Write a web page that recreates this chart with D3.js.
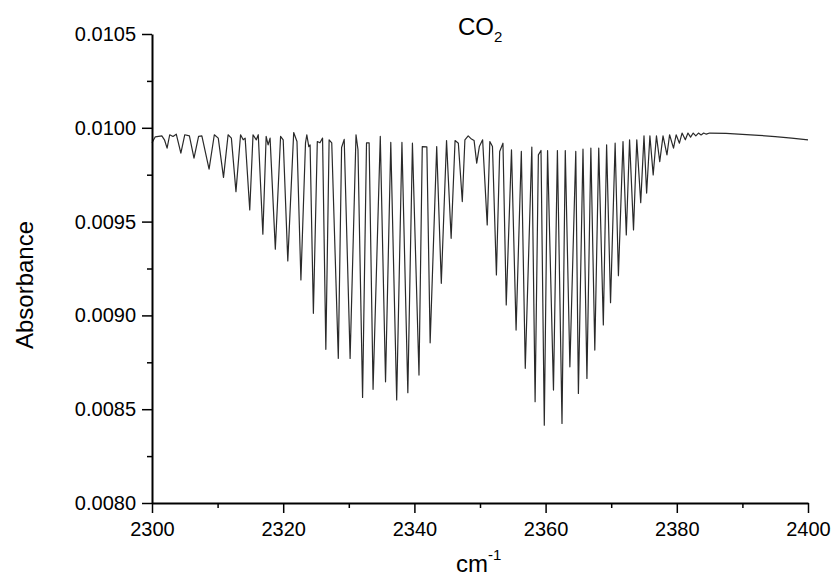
<!DOCTYPE html>
<html>
<head>
<meta charset="utf-8">
<script src="https://cdn.jsdelivr.net/npm/d3@7"></script>
<style>
  body { margin: 0; background: #fff; }
  text { font-family: "Liberation Sans", Arial, sans-serif; fill: #000; }
</style>
</head>
<body>
<div id="chart"></div>
<script>
// spectrum vertices (wavenumber in cm-1, absorbance)
var wavenumber = [
  2300.0, 2300.5, 2301.5, 2301.9, 2302.3, 2302.7, 2303.2, 2303.7, 2304.4, 2305.0,
  2305.7, 2306.4, 2307.1, 2307.6, 2308.7, 2309.5, 2310.1, 2310.9, 2311.6, 2312.1,
  2312.8, 2313.5, 2313.9, 2314.2, 2314.9, 2315.4, 2315.9, 2316.2, 2316.9, 2317.4,
  2317.7, 2318.0, 2318.8, 2319.6, 2320.0, 2320.7, 2321.6, 2322.1, 2322.7, 2323.4,
  2323.6, 2323.9, 2324.1, 2324.6, 2325.2, 2325.6, 2326.0, 2326.5, 2327.0, 2327.4,
  2328.4, 2328.9, 2329.3, 2330.2, 2331.1, 2331.4, 2332.1, 2332.7, 2333.1, 2333.7,
  2334.8, 2335.6, 2336.4, 2337.3, 2338.1, 2339.0, 2339.7, 2340.7, 2341.2, 2341.9,
  2342.4, 2343.4, 2344.1, 2344.9, 2345.6, 2346.2, 2346.7, 2347.3, 2347.7, 2348.2,
  2348.7, 2349.1, 2349.5, 2349.9, 2350.4, 2351.1, 2351.5, 2351.9, 2352.5, 2353.0,
  2353.5, 2354.0, 2354.8, 2355.5, 2356.3, 2356.9, 2357.9, 2358.4, 2358.9, 2359.3,
  2359.8, 2360.3, 2361.2, 2361.8, 2362.5, 2363.0, 2363.7, 2364.6, 2365.0, 2365.7,
  2366.3, 2366.9, 2367.5, 2368.1, 2368.8, 2369.3, 2369.9, 2370.6, 2371.1, 2371.8,
  2372.3, 2372.8, 2373.4, 2373.9, 2374.5, 2375.0, 2375.4, 2375.9, 2376.4, 2376.9,
  2377.4, 2377.9, 2378.5, 2378.9, 2379.5, 2379.9, 2380.4, 2380.8, 2381.3, 2381.7,
  2382.1, 2382.5, 2382.9, 2383.3, 2383.7, 2384.1, 2384.5, 2385.0, 2387.5, 2390.0,
  2392.5, 2395.0, 2397.5, 2400.0
];
var absorbance = [
  0.009920, 0.009952, 0.009957, 0.009936, 0.009892, 0.009963, 0.009954, 0.009966, 0.009865, 0.009963,
  0.009957, 0.009838, 0.009954, 0.009957, 0.009780, 0.009963, 0.009945, 0.009736, 0.009963, 0.009945,
  0.009660, 0.009963, 0.009936, 0.009945, 0.009562, 0.009963, 0.009936, 0.009963, 0.009433, 0.009954,
  0.009909, 0.009945, 0.009353, 0.009954, 0.009936, 0.009290, 0.009975, 0.009927, 0.009189, 0.009920,
  0.009963, 0.009900, 0.009909, 0.009011, 0.009927, 0.009920, 0.009945, 0.008819, 0.009936, 0.009920,
  0.008771, 0.009895, 0.009938, 0.008771, 0.009963, 0.009883, 0.008563, 0.009920, 0.009920, 0.008606,
  0.009954, 0.008646, 0.009922, 0.008549, 0.009922, 0.008588, 0.009918, 0.008682, 0.009900, 0.009898,
  0.008854, 0.009900, 0.009171, 0.009932, 0.009411, 0.009932, 0.009918, 0.009607, 0.009936, 0.009957,
  0.009940, 0.009932, 0.009812, 0.009900, 0.009936, 0.009482, 0.009927, 0.009900, 0.009216, 0.009874,
  0.009918, 0.009056, 0.009883, 0.008922, 0.009874, 0.008718, 0.009897, 0.008540, 0.009856, 0.009879,
  0.008415, 0.009879, 0.008602, 0.009879, 0.008424, 0.009879, 0.008726, 0.009874, 0.008584, 0.009886,
  0.008664, 0.009892, 0.008815, 0.009892, 0.008949, 0.009909, 0.009068, 0.009918, 0.009212, 0.009927,
  0.009429, 0.009936, 0.009456, 0.009936, 0.009601, 0.009957, 0.009652, 0.009957, 0.009749, 0.009957,
  0.009820, 0.009957, 0.009856, 0.009963, 0.009892, 0.009963, 0.009918, 0.009972, 0.009936, 0.009972,
  0.009950, 0.009972, 0.009957, 0.009972, 0.009962, 0.009972, 0.009966, 0.009972, 0.009970, 0.009965,
  0.009960, 0.009953, 0.009945, 0.009936
];

var xTicks = [2300, 2320, 2340, 2360, 2380, 2400];
var xMinorTicks = [2310, 2330, 2350, 2370, 2390];
var yTicks = [0.0080, 0.0085, 0.0090, 0.0095, 0.0100, 0.0105];
var yMinorTicks = [0.00825, 0.00875, 0.00925, 0.00975, 0.01025];

var width = 832, height = 579;
var margin = { left: 152, right: 24, top: 34, bottom: 76 };

var svg = d3.select("#chart")
  .append("svg")
  .attr("width", width)
  .attr("height", height);

var x = d3.scaleLinear()
  .domain([2300, 2400])
  .range([margin.left, width - margin.right]);

var y = d3.scaleLinear()
  .domain([0.0080, 0.0105])
  .range([height - margin.bottom, margin.top]);

// spectrum
var pts = wavenumber.map(function(w, i) { return [w, absorbance[i]]; });
var line = d3.line()
  .x(function(d) { return x(d[0]); })
  .y(function(d) { return y(d[1]); });

svg.append("path")
  .datum(pts)
  .attr("d", line)
  .attr("fill", "none")
  .attr("stroke", "#2a2a2a")
  .attr("stroke-width", 1.2)
  .attr("stroke-linejoin", "round");

// minor ticks
svg.append("g")
  .attr("transform", "translate(0," + (height - margin.bottom) + ")")
  .call(d3.axisBottom(x).tickValues(xMinorTicks).tickSize(5).tickFormat(""))
  .call(function(g) { g.select(".domain").remove(); })
  .selectAll("line").attr("stroke-width", 1.5);

svg.append("g")
  .attr("transform", "translate(" + margin.left + ",0)")
  .call(d3.axisLeft(y).tickValues(yMinorTicks).tickSize(5).tickFormat(""))
  .call(function(g) { g.select(".domain").remove(); })
  .selectAll("line").attr("stroke-width", 1.5);

// major axes
var xAxis = svg.append("g")
  .attr("transform", "translate(0," + (height - margin.bottom) + ")")
  .call(d3.axisBottom(x).tickValues(xTicks).tickSize(10).tickSizeOuter(0).tickPadding(9)
    .tickFormat(d3.format("d")));

var yAxis = svg.append("g")
  .attr("transform", "translate(" + margin.left + ",0)")
  .call(d3.axisLeft(y).tickValues(yTicks).tickSize(10).tickSizeOuter(0).tickPadding(6)
    .tickFormat(d3.format(".4f")));

[xAxis, yAxis].forEach(function(g) {
  g.select(".domain").attr("stroke-width", 2);
  g.selectAll(".tick line").attr("stroke-width", 1.5);
  g.selectAll("text")
    .style("font-size", "20px")
    .style("font-family", "'Liberation Sans', Arial, sans-serif")
    .attr("fill", "#000");
});

// title
var title = svg.append("text")
  .attr("x", 458)
  .attr("y", 35)
  .style("font-size", "24px");
title.append("tspan").text("CO");
title.append("tspan").attr("dy", 7).style("font-size", "15px").text("2");

// x label
var xl = svg.append("text")
  .attr("x", 456)
  .attr("y", 572)
  .style("font-size", "24px");
xl.append("tspan").text("cm");
xl.append("tspan").attr("dy", -12).style("font-size", "15px").text("-1");

// y label
svg.append("text")
  .attr("transform", "translate(33,285) rotate(-90)")
  .attr("text-anchor", "middle")
  .style("font-size", "24px")
  .text("Absorbance");
</script>
</body>
</html>
